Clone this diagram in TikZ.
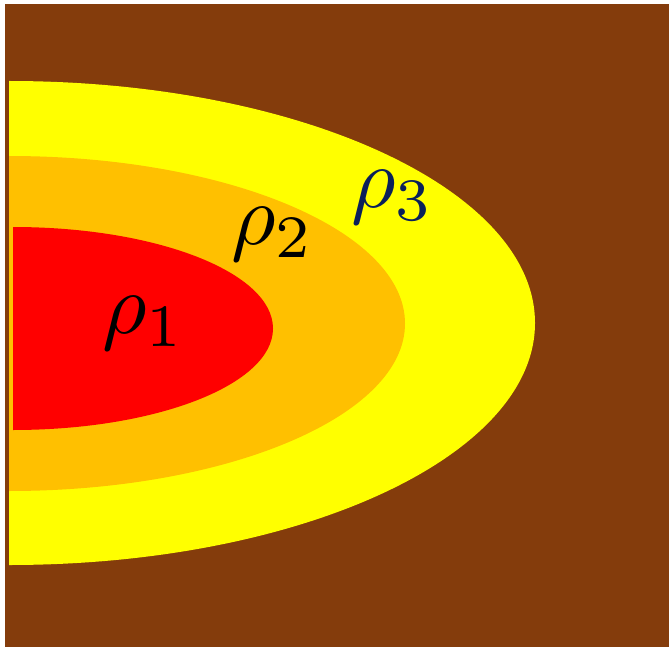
\documentclass[tikz,border=0pt]{standalone}
\definecolor{soil}{RGB}{132,60,12}
\definecolor{ringthree}{RGB}{255,255,0}
\definecolor{ringtwo}{RGB}{255,192,0}
\definecolor{ringone}{RGB}{255,0,0}
\definecolor{navy}{RGB}{10,32,90}
\tikzset{
  rholabel/.style={inner sep=0pt, anchor=center, scale=8.6}
}
\begin{document}
\begin{tikzpicture}[x=1pt,y=-1pt]
  \useasboundingbox[fill=white] (0,0) rectangle (669,647);
  \fill[soil] (5,4) rectangle (669,647);
  \fill[ringthree] (9,81) arc[start angle=-90,end angle=90,x radius=526,y radius=242] -- cycle;
  \fill[ringtwo] (9,156) arc[start angle=-90,end angle=90,x radius=396,y radius=167.5] -- cycle;
  \fill[ringone] (13,227) arc[start angle=-90,end angle=90,x radius=260,y radius=101.5] -- cycle;
  \node[rholabel] (r1) at (144,323) {$\rho_1$};
  \node[rholabel] (r2) at (273,234) {$\rho_2$};
  \node[rholabel, text=navy] (r3) at (393,197) {$\rho_3$};
\end{tikzpicture}
\end{document}
